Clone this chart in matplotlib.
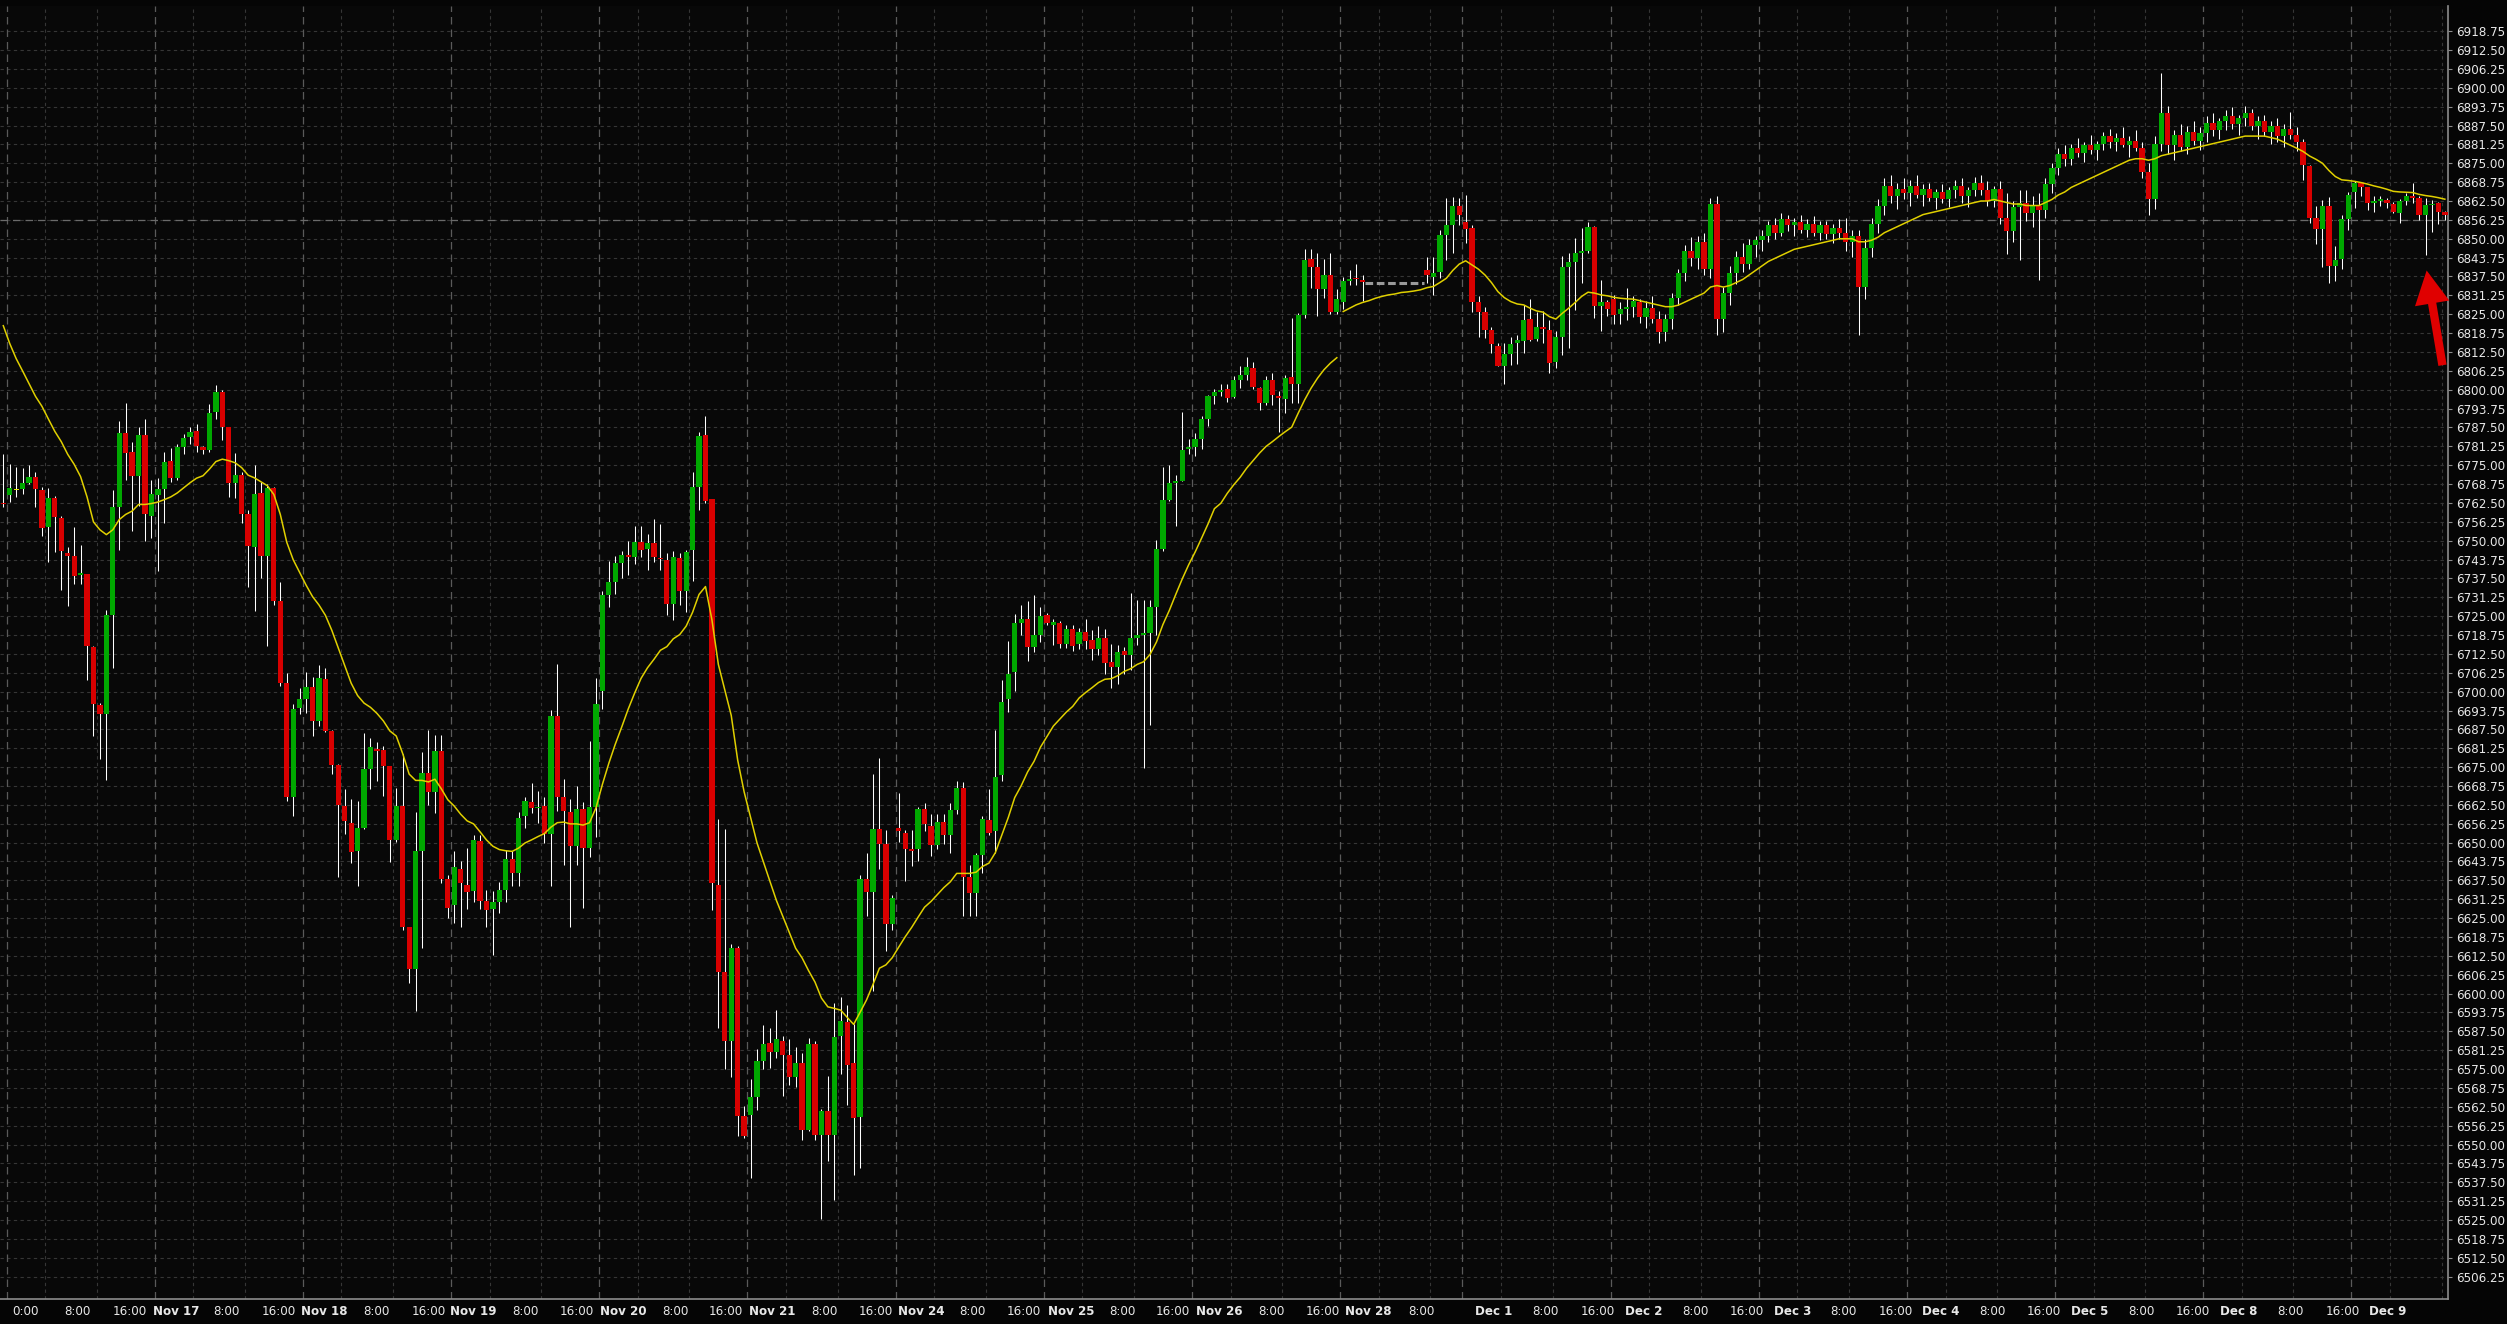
import numpy as np
import matplotlib
matplotlib.use("Agg")
import matplotlib.pyplot as plt
from matplotlib.patches import FancyArrowPatch

nan = np.nan

# OHLC, one hourly bar per entry (bars 212-220 are the empty holiday slots)
opens = [
    6762.5, 6765.0, 6766.7, 6767.0, 6769.0, 6771.2, 6766.8, 6754.5, 6764.2, 6757.5,
    6745.8, 6745.0, 6738.5, 6739.0, 6714.8, 6695.7, 6692.5, 6725.3, 6761.2, 6785.8,
    6779.3, 6771.3, 6785.0, 6758.3, 6765.0, 6767.0, 6776.5, 6770.8, 6781.0, 6784.3,
    6786.2, 6781.0, 6780.0, 6792.5, 6799.2, 6787.7, 6769.2, 6771.7, 6759.0, 6748.0,
    6765.7, 6744.8, 6767.3, 6730.0, 6702.8, 6665.0, 6694.5, 6697.5, 6701.5, 6690.3,
    6704.2, 6687.0, 6675.7, 6662.0, 6656.5, 6647.3, 6655.0, 6674.5, 6681.0, 6680.7,
    6675.3, 6650.8, 6662.0, 6622.0, 6608.0, 6647.3, 6673.0, 6666.8, 6680.3, 6638.0,
    6629.2, 6641.4, 6635.9, 6634.0, 6650.5, 6630.8, 6627.9, 6630.4, 6634.4, 6644.6,
    6639.9, 6658.8, 6663.4, 6661.3, 6662.1, 6653.0, 6691.9, 6665.0, 6660.2, 6648.8,
    6661.0, 6648.2, 6661.9, 6700.1, 6732.0, 6736.3, 6742.6, 6745.3, 6744.7, 6749.6,
    6747.2, 6749.2, 6744.3, 6743.6, 6729.1, 6744.1, 6733.3, 6746.8, 6767.7, 6785.0,
    6763.9, 6636.1, 6607.0, 6584.4, 6615.2, 6559.4, 6559.8, 6565.8, 6577.6, 6583.5,
    6580.6, 6584.4, 6579.7, 6572.3, 6577.0, 6554.8, 6583.3, 6553.3, 6561.2, 6553.3,
    6586.0, 6590.5, 6577.0, 6559.1, 6637.9, 6633.5, 6654.4, 6649.5, 6623.0, 6654.8,
    6653.2, 6647.9, 6647.9, 6661.1, 6655.6, 6649.1, 6656.9, 6652.5, 6660.7, 6668.1,
    6638.6, 6633.2, 6646.0, 6657.4, 6653.7, 6672.3, 6697.4, 6706.5, 6722.7, 6724.1,
    6714.8, 6718.7, 6725.5, 6722.2, 6722.7, 6715.7, 6720.6, 6715.7, 6719.7, 6717.1,
    6714.1, 6717.8, 6709.9, 6708.3, 6713.4, 6712.0, 6717.8, 6718.7, 6719.4, 6728.1,
    6747.3, 6763.6, 6769.2, 6769.9, 6780.3, 6781.0, 6783.8, 6790.3, 6797.8, 6799.4,
    6800.1, 6797.7, 6803.3, 6804.9, 6807.1, 6800.7, 6795.7, 6803.3, 6797.9, 6796.8,
    6804.1, 6801.9, 6824.8, 6843.2, 6840.6, 6833.3, 6838.0, 6825.9, 6829.2, 6836.1,
    6837.1, 6836.4, nan, nan, nan, nan, nan, nan, nan, nan,
    nan, 6839.7, 6837.2, 6839.1, 6851.3, 6854.6, 6860.7, 6855.4, 6853.5, 6829.2,
    6825.9, 6819.8, 6814.5, 6807.9, 6811.9, 6815.6, 6816.0, 6823.3, 6816.7, 6820.9,
    6819.8, 6809.3, 6817.6, 6840.6, 6842.2, 6845.4, 6846.0, 6853.8, 6827.8, 6829.2,
    6830.0, 6825.1, 6826.6, 6827.5, 6829.2, 6824.2, 6827.0, 6823.5, 6819.0, 6823.5,
    6830.5, 6838.5, 6846.0, 6843.5, 6849.0, 6840.0, 6861.5, 6823.5, 6832.0, 6838.5,
    6844.0, 6841.5, 6848.0, 6849.5, 6851.0, 6854.5, 6852.0, 6856.5, 6854.5, 6855.5,
    6853.0, 6855.0, 6852.0, 6854.5, 6851.5, 6853.5, 6852.0, 6849.0, 6851.0, 6834.0,
    6847.0, 6855.0, 6861.0, 6867.5, 6864.0, 6866.5, 6865.0, 6867.5, 6864.5, 6866.5,
    6863.5, 6865.5, 6863.0, 6866.0, 6867.5, 6864.0, 6866.0, 6868.5, 6866.0, 6862.5,
    6866.5, 6857.0, 6852.5, 6860.5, 6862.0, 6858.5, 6861.0, 6859.5, 6868.0, 6873.5,
    6878.0, 6876.5, 6880.0, 6878.5, 6881.0, 6879.5, 6881.5, 6884.0, 6882.0, 6883.5,
    6881.0, 6882.5, 6880.0, 6872.0, 6863.0, 6881.5, 6891.5, 6881.0, 6884.5, 6880.5,
    6885.5, 6882.5, 6885.0, 6888.5, 6886.0, 6889.0, 6890.5, 6888.0, 6890.0, 6891.5,
    6887.5, 6889.0, 6885.5, 6887.5, 6884.0, 6886.5, 6884.5, 6882.0, 6874.1, 6856.8,
    6853.3, 6860.9, 6841.1, 6843.3, 6856.6, 6865.6, 6868.4, 6867.0, 6862.0, 6862.4,
    6862.9, 6861.5, 6858.5, 6862.5, 6864.2, 6863.6, 6857.7, 6861.1, 6862.0, 6859.0,
]
highs = [
    6778.7, 6775.3, 6774.5, 6774.0, 6775.2, 6772.8, 6767.8, 6767.5, 6764.8, 6758.2,
    6747.8, 6754.5, 6748.7, 6739.0, 6715.2, 6696.2, 6727.0, 6766.7, 6789.5, 6795.7,
    6782.8, 6787.8, 6790.3, 6770.0, 6770.8, 6779.5, 6780.8, 6782.0, 6785.3, 6787.8,
    6788.7, 6781.5, 6795.3, 6801.5, 6799.8, 6787.8, 6779.0, 6772.8, 6760.0, 6775.2,
    6769.5, 6768.7, 6767.8, 6736.2, 6706.2, 6695.8, 6701.2, 6706.5, 6705.0, 6708.7,
    6707.8, 6687.3, 6676.2, 6667.8, 6664.3, 6663.7, 6686.2, 6684.8, 6683.2, 6682.0,
    6675.3, 6668.2, 6679.5, 6622.0, 6660.0, 6680.0, 6687.4, 6685.8, 6685.8, 6639.3,
    6647.3, 6643.9, 6648.2, 6652.4, 6652.6, 6634.4, 6634.0, 6636.8, 6647.7, 6647.3,
    6660.0, 6665.0, 6669.7, 6667.2, 6665.0, 6693.8, 6709.0, 6671.0, 6664.6, 6668.9,
    6663.4, 6683.7, 6704.4, 6733.3, 6743.4, 6744.9, 6746.6, 6749.8, 6755.0, 6755.0,
    6752.3, 6757.2, 6755.5, 6746.0, 6746.6, 6745.8, 6747.0, 6772.8, 6786.1, 6791.4,
    6763.9, 6657.9, 6654.5, 6616.5, 6615.6, 6562.8, 6571.7, 6581.8, 6589.6, 6588.6,
    6594.5, 6586.1, 6584.8, 6582.3, 6580.2, 6585.2, 6584.4, 6561.9, 6572.8, 6596.8,
    6599.0, 6596.1, 6589.8, 6639.3, 6646.7, 6672.8, 6678.1, 6654.2, 6632.8, 6666.5,
    6654.2, 6654.2, 6661.8, 6663.0, 6659.5, 6659.5, 6659.5, 6663.0, 6670.4, 6670.0,
    6642.5, 6646.7, 6658.8, 6667.6, 6687.4, 6703.7, 6716.9, 6725.7, 6728.8, 6729.9,
    6732.0, 6728.0, 6726.2, 6724.1, 6723.4, 6722.2, 6722.2, 6721.1, 6724.1, 6720.4,
    6721.8, 6720.6, 6715.7, 6715.3, 6714.8, 6732.7, 6730.4, 6730.4, 6730.4, 6750.1,
    6774.5, 6775.0, 6771.7, 6792.6, 6783.8, 6785.6, 6791.3, 6798.2, 6800.1, 6801.9,
    6801.9, 6804.4, 6807.7, 6810.8, 6809.3, 6801.0, 6804.4, 6805.5, 6799.6, 6804.9,
    6823.7, 6825.3, 6846.5, 6846.5, 6845.2, 6843.2, 6845.2, 6833.3, 6837.2, 6839.5,
    6841.7, 6838.0, nan, nan, nan, nan, nan, nan, nan, nan,
    nan, 6844.1, 6844.1, 6852.9, 6863.4, 6863.8, 6863.4, 6864.5, 6854.6, 6830.9,
    6827.5, 6820.9, 6815.4, 6815.4, 6817.6, 6818.1, 6828.1, 6830.0, 6825.9, 6826.2,
    6823.1, 6819.3, 6844.3, 6845.2, 6850.2, 6853.5, 6855.5, 6854.3, 6836.4, 6829.8,
    6831.4, 6829.2, 6833.6, 6830.9, 6830.0, 6829.5, 6831.0, 6826.0, 6825.0, 6832.0,
    6840.0, 6848.0, 6850.5, 6851.0, 6852.0, 6863.5, 6864.0, 6834.0, 6841.0, 6846.0,
    6848.5, 6850.0, 6851.0, 6853.0, 6856.0, 6857.0, 6858.5, 6858.0, 6857.0, 6858.0,
    6856.5, 6857.5, 6856.0, 6856.0, 6855.0, 6856.5, 6857.0, 6853.0, 6853.0, 6850.0,
    6857.0, 6863.0, 6870.0, 6871.0, 6868.5, 6870.0, 6869.5, 6871.0, 6868.0, 6868.5,
    6866.5, 6868.0, 6867.0, 6869.5, 6870.0, 6867.0, 6870.5, 6871.0, 6869.0, 6867.5,
    6869.0, 6865.0, 6862.5, 6866.0, 6866.0, 6864.0, 6865.0, 6870.0, 6875.0, 6880.0,
    6881.0, 6881.5, 6883.5, 6882.0, 6884.5, 6882.5, 6885.5, 6886.5, 6885.0, 6887.0,
    6884.0, 6886.0, 6882.0, 6875.0, 6884.0, 6905.0, 6894.0, 6886.0, 6888.0, 6887.5,
    6889.0, 6887.0, 6890.5, 6891.5, 6890.0, 6892.5, 6893.5, 6891.0, 6894.0, 6893.0,
    6890.5, 6891.0, 6889.0, 6890.0, 6888.0, 6892.0, 6887.0, 6883.0, 6874.5, 6860.9,
    6862.9, 6863.7, 6847.6, 6857.9, 6865.6, 6869.0, 6868.7, 6867.3, 6864.2, 6864.3,
    6863.4, 6862.3, 6863.1, 6865.1, 6868.6, 6864.0, 6863.4, 6862.9, 6862.3, 6859.2,
]
lows = [
    6761.2, 6762.8, 6764.5, 6765.3, 6768.7, 6761.2, 6751.5, 6742.8, 6746.2, 6733.5,
    6728.5, 6735.5, 6735.7, 6704.0, 6685.3, 6677.8, 6670.7, 6707.8, 6747.0, 6770.0,
    6753.3, 6761.5, 6750.0, 6750.8, 6740.0, 6755.7, 6769.5, 6770.0, 6778.7, 6782.0,
    6779.5, 6778.7, 6779.5, 6790.3, 6783.5, 6764.5, 6764.0, 6755.7, 6734.5, 6726.7,
    6737.7, 6715.0, 6728.7, 6702.0, 6663.7, 6658.8, 6692.7, 6692.8, 6685.3, 6688.7,
    6686.5, 6672.8, 6638.7, 6652.8, 6643.3, 6635.7, 6654.5, 6667.8, 6670.3, 6665.3,
    6643.7, 6650.3, 6621.2, 6603.4, 6594.3, 6615.0, 6662.5, 6659.8, 6636.5, 6624.9,
    6623.4, 6622.0, 6628.1, 6630.4, 6628.1, 6622.0, 6612.9, 6626.6, 6630.4, 6635.7,
    6635.5, 6655.0, 6659.8, 6656.6, 6649.9, 6635.7, 6660.4, 6642.5, 6622.0, 6642.5,
    6628.3, 6645.2, 6652.0, 6694.2, 6728.0, 6732.2, 6737.5, 6738.6, 6742.4, 6744.5,
    6740.3, 6742.8, 6740.3, 6725.5, 6723.8, 6728.7, 6726.3, 6736.5, 6760.1, 6762.4,
    6627.7, 6588.6, 6574.9, 6572.3, 6552.7, 6552.3, 6538.9, 6561.6, 6574.9, 6575.5,
    6578.5, 6566.0, 6569.6, 6569.0, 6551.6, 6554.4, 6551.6, 6525.2, 6544.5, 6531.7,
    6573.5, 6563.1, 6539.8, 6542.2, 6625.8, 6600.7, 6641.4, 6614.2, 6621.2, 6650.2,
    6637.4, 6642.1, 6643.9, 6653.7, 6645.6, 6647.9, 6649.5, 6646.7, 6659.5, 6625.8,
    6625.8, 6625.8, 6639.8, 6652.5, 6646.7, 6670.4, 6693.2, 6700.2, 6718.8, 6710.2,
    6713.0, 6716.4, 6722.2, 6715.3, 6714.6, 6714.6, 6713.6, 6714.1, 6714.1, 6710.6,
    6712.3, 6706.0, 6701.3, 6702.5, 6706.0, 6707.2, 6715.3, 6674.6, 6689.0, 6718.7,
    6746.6, 6763.0, 6754.8, 6769.9, 6778.7, 6778.0, 6780.3, 6788.0, 6795.4, 6797.8,
    6795.9, 6797.2, 6800.5, 6803.3, 6800.1, 6793.3, 6795.0, 6795.0, 6786.1, 6792.4,
    6795.7, 6795.7, 6823.7, 6833.6, 6824.5, 6830.3, 6825.1, 6825.1, 6826.7, 6834.7,
    6834.7, 6829.5, nan, nan, nan, nan, nan, nan, nan, nan,
    nan, 6835.3, 6831.4, 6836.9, 6843.0, 6845.2, 6854.6, 6848.5, 6825.9, 6817.4,
    6817.1, 6812.3, 6807.7, 6801.9, 6808.2, 6808.5, 6812.3, 6816.0, 6816.0, 6815.6,
    6805.5, 6807.1, 6811.5, 6813.8, 6826.4, 6835.3, 6845.2, 6823.7, 6819.5, 6824.4,
    6821.8, 6821.8, 6823.1, 6824.2, 6822.0, 6820.5, 6822.0, 6815.5, 6816.0, 6820.0,
    6828.0, 6836.0, 6841.0, 6840.0, 6838.0, 6837.0, 6818.0, 6819.0, 6828.0, 6835.0,
    6839.0, 6840.0, 6844.0, 6846.0, 6849.0, 6850.0, 6851.0, 6852.5, 6851.0, 6852.0,
    6850.5, 6851.0, 6849.5, 6850.0, 6848.5, 6850.0, 6846.0, 6844.0, 6818.0, 6830.0,
    6844.0, 6852.0, 6858.0, 6862.0, 6860.0, 6863.0, 6861.0, 6863.5, 6861.0, 6862.5,
    6860.0, 6862.0, 6860.5, 6863.5, 6862.0, 6860.5, 6864.0, 6864.5, 6861.0, 6860.5,
    6855.0, 6845.0, 6849.0, 6843.0, 6856.0, 6854.0, 6836.5, 6857.0, 6865.0, 6871.0,
    6874.0, 6874.5, 6877.0, 6875.5, 6878.0, 6876.0, 6879.5, 6880.0, 6879.0, 6880.5,
    6877.0, 6879.0, 6870.0, 6858.0, 6860.0, 6879.0, 6878.0, 6876.0, 6879.0, 6878.0,
    6881.0, 6879.5, 6882.0, 6884.0, 6883.0, 6886.0, 6886.5, 6884.5, 6887.5, 6886.0,
    6883.0, 6884.0, 6881.5, 6882.0, 6880.5, 6883.0, 6879.0, 6869.3, 6855.1, 6848.3,
    6840.8, 6835.3, 6836.1, 6839.9, 6852.9, 6860.1, 6864.2, 6859.6, 6859.0, 6860.7,
    6860.1, 6858.4, 6855.1, 6861.2, 6861.8, 6856.2, 6844.6, 6852.4, 6854.9, 6856.2,
]
closes = [
    6762.0, 6767.3, 6766.7, 6769.0, 6771.2, 6767.0, 6754.2, 6764.2, 6757.8, 6746.5,
    6744.8, 6738.3, 6739.2, 6715.0, 6695.8, 6692.5, 6725.3, 6761.2, 6785.8, 6779.0,
    6771.3, 6785.0, 6758.7, 6765.3, 6767.0, 6776.2, 6770.8, 6781.0, 6784.0, 6786.0,
    6781.2, 6780.0, 6792.3, 6799.2, 6787.8, 6769.0, 6771.7, 6759.0, 6748.2, 6765.3,
    6744.8, 6767.3, 6730.0, 6702.8, 6665.0, 6694.2, 6697.5, 6701.5, 6690.3, 6704.5,
    6687.0, 6675.7, 6662.3, 6657.0, 6647.0, 6655.0, 6674.5, 6681.7, 6680.3, 6675.3,
    6650.8, 6662.0, 6622.0, 6608.0, 6647.3, 6673.1, 6666.8, 6680.3, 6637.8, 6628.3,
    6641.8, 6636.5, 6633.8, 6650.9, 6630.8, 6627.7, 6630.4, 6634.2, 6644.6, 6639.9,
    6658.3, 6663.8, 6661.3, 6661.7, 6653.0, 6691.9, 6665.0, 6660.4, 6648.8, 6661.0,
    6648.2, 6661.9, 6695.9, 6732.0, 6736.3, 6742.6, 6745.3, 6744.7, 6749.6, 6747.0,
    6749.2, 6744.5, 6743.8, 6729.1, 6744.5, 6733.3, 6746.2, 6767.7, 6784.6, 6763.3,
    6636.5, 6607.0, 6584.4, 6615.2, 6559.4, 6552.7, 6565.8, 6577.6, 6583.3, 6580.6,
    6585.0, 6579.7, 6572.3, 6577.0, 6554.8, 6583.3, 6553.1, 6561.2, 6553.3, 6585.6,
    6590.9, 6576.5, 6558.9, 6637.9, 6633.5, 6654.4, 6649.5, 6623.0, 6631.6, 6653.7,
    6647.9, 6647.2, 6661.1, 6656.0, 6649.1, 6656.9, 6652.5, 6660.7, 6668.1, 6638.6,
    6633.2, 6646.0, 6657.9, 6653.2, 6671.8, 6696.7, 6706.0, 6722.7, 6724.1, 6714.8,
    6718.7, 6725.0, 6722.7, 6723.2, 6715.7, 6720.6, 6715.0, 6719.7, 6716.9, 6714.1,
    6717.8, 6709.5, 6708.3, 6713.0, 6712.0, 6717.8, 6718.7, 6719.4, 6728.1, 6747.3,
    6763.6, 6769.2, 6769.9, 6779.9, 6781.0, 6783.8, 6790.3, 6797.8, 6799.4, 6799.9,
    6797.3, 6803.3, 6804.9, 6807.4, 6801.0, 6795.5, 6803.3, 6798.3, 6797.2, 6803.8,
    6801.9, 6824.8, 6843.0, 6840.8, 6833.3, 6838.0, 6825.9, 6830.0, 6836.1, 6836.6,
    6836.6, 6835.8, nan, nan, nan, nan, nan, nan, nan, nan,
    nan, 6838.0, 6838.6, 6851.3, 6854.6, 6860.7, 6857.7, 6853.3, 6829.2, 6825.9,
    6819.8, 6815.2, 6807.9, 6811.9, 6815.2, 6816.3, 6823.1, 6816.3, 6820.9, 6820.0,
    6809.0, 6817.6, 6840.6, 6842.2, 6845.2, 6846.0, 6853.8, 6827.8, 6829.2, 6826.6,
    6824.8, 6826.6, 6827.5, 6829.5, 6824.2, 6827.0, 6823.5, 6819.0, 6823.5, 6830.5,
    6838.5, 6846.0, 6843.5, 6849.0, 6840.0, 6861.5, 6823.5, 6832.0, 6838.5, 6844.0,
    6841.5, 6848.0, 6849.5, 6851.0, 6854.5, 6852.0, 6856.5, 6854.5, 6855.5, 6853.0,
    6855.0, 6852.0, 6854.5, 6851.5, 6853.5, 6852.0, 6849.0, 6851.0, 6834.0, 6847.0,
    6855.0, 6861.0, 6867.5, 6864.0, 6866.5, 6865.0, 6867.5, 6864.5, 6866.5, 6863.5,
    6865.5, 6863.0, 6866.0, 6867.5, 6864.0, 6866.0, 6868.5, 6866.0, 6862.5, 6866.5,
    6857.0, 6852.5, 6860.5, 6862.0, 6858.5, 6861.0, 6859.5, 6868.0, 6873.5, 6878.0,
    6876.5, 6880.0, 6878.5, 6881.0, 6879.5, 6881.5, 6884.0, 6882.0, 6883.5, 6881.0,
    6882.5, 6880.0, 6872.0, 6863.0, 6881.5, 6891.5, 6881.0, 6884.5, 6880.5, 6885.5,
    6882.5, 6885.0, 6888.5, 6886.0, 6889.0, 6890.5, 6888.0, 6890.0, 6891.5, 6887.5,
    6889.0, 6885.5, 6887.5, 6884.0, 6886.5, 6884.5, 6882.0, 6874.5, 6856.8, 6853.3,
    6860.9, 6841.1, 6843.0, 6856.6, 6864.5, 6868.4, 6867.0, 6861.8, 6862.5, 6863.0,
    6861.8, 6858.8, 6862.5, 6864.3, 6863.6, 6857.7, 6861.2, 6861.6, 6859.0, 6857.7,
]

# yellow moving average as drawn on the chart; it restarts at bar 208
ma_values = [
    6821.2, 6815.3, 6810.3, 6806.2, 6802.0, 6797.8, 6794.5, 6790.3, 6786.2, 6782.8,
    6778.6, 6775.3, 6771.2, 6764.5, 6756.2, 6753.6, 6752.0, 6753.6, 6757.0, 6758.7,
    6759.8, 6762.0, 6762.0, 6762.3, 6762.8, 6763.6, 6764.5, 6765.8, 6767.5, 6769.2,
    6770.7, 6771.5, 6773.7, 6776.2, 6777.0, 6776.5, 6775.8, 6774.2, 6771.7, 6770.8,
    6769.5, 6768.2, 6765.3, 6758.7, 6749.5, 6743.7, 6739.5, 6735.3, 6731.5, 6728.7,
    6725.3, 6720.3, 6714.5, 6708.7, 6702.8, 6698.7, 6696.2, 6694.8, 6692.8, 6690.3,
    6687.0, 6685.3, 6679.5, 6672.7, 6670.6, 6670.6, 6670.1, 6671.0, 6667.8, 6664.2,
    6662.1, 6659.4, 6657.2, 6656.2, 6653.6, 6650.9, 6648.8, 6647.7, 6647.3, 6647.1,
    6648.2, 6649.9, 6650.9, 6652.0, 6653.0, 6655.1, 6656.6, 6656.8, 6656.2, 6656.2,
    6655.8, 6656.6, 6661.5, 6669.3, 6676.3, 6682.6, 6688.3, 6694.2, 6699.5, 6704.4,
    6707.9, 6710.7, 6713.7, 6714.9, 6717.5, 6718.9, 6721.7, 6726.3, 6732.2, 6734.8,
    6723.8, 6709.0, 6700.5, 6692.1, 6677.3, 6666.8, 6658.3, 6649.9, 6643.5, 6637.2,
    6630.9, 6625.6, 6620.3, 6615.0, 6611.8, 6607.6, 6603.8, 6598.5, 6595.6, 6595.1,
    6594.5, 6592.1, 6589.8, 6593.8, 6597.9, 6603.0, 6608.4, 6609.5, 6611.9, 6615.4,
    6618.8, 6621.9, 6625.3, 6628.6, 6630.5, 6632.8, 6635.1, 6637.0, 6639.8, 6639.8,
    6639.8, 6640.2, 6642.1, 6643.2, 6646.7, 6652.5, 6658.3, 6664.9, 6668.8, 6673.4,
    6676.9, 6681.6, 6685.1, 6688.6, 6690.9, 6693.2, 6695.1, 6697.9, 6699.7, 6701.3,
    6703.0, 6704.1, 6704.3, 6705.3, 6706.7, 6707.6, 6709.0, 6709.9, 6712.3, 6716.4,
    6722.2, 6726.9, 6732.2, 6737.3, 6742.0, 6746.2, 6750.8, 6755.5, 6760.6, 6762.4,
    6765.7, 6768.5, 6771.0, 6774.0, 6776.5, 6779.0, 6781.2, 6782.8, 6784.5, 6786.1,
    6787.6, 6792.2, 6796.6, 6800.5, 6803.8, 6806.6, 6808.8, 6810.6, 6825.9, 6827.0,
    6828.1, 6828.9, 6829.5, 6830.3, 6830.9, 6831.4, 6831.7, 6832.2, 6832.4, 6832.7,
    6833.1, 6833.8, 6834.2, 6835.5, 6836.9, 6839.5, 6841.6, 6842.7, 6841.3, 6839.9,
    6838.0, 6835.5, 6832.5, 6830.5, 6829.2, 6828.4, 6828.1, 6827.0, 6826.1, 6825.7,
    6824.2, 6823.4, 6825.3, 6827.0, 6828.9, 6830.9, 6832.3, 6832.0, 6831.4, 6831.1,
    6830.6, 6830.3, 6830.1, 6830.0, 6829.5, 6829.0, 6828.5, 6828.0, 6827.5, 6827.5,
    6828.0, 6829.0, 6830.0, 6831.0, 6832.0, 6834.0, 6834.5, 6834.0, 6834.5, 6835.5,
    6836.5, 6838.0, 6839.5, 6841.0, 6842.5, 6843.5, 6844.5, 6845.5, 6846.5, 6847.0,
    6847.5, 6848.0, 6848.5, 6849.0, 6849.5, 6850.0, 6850.0, 6850.0, 6849.0, 6849.0,
    6849.5, 6850.5, 6852.0, 6853.0, 6854.0, 6855.0, 6856.0, 6857.0, 6858.0, 6858.5,
    6859.0, 6859.5, 6860.0, 6860.5, 6861.0, 6861.5, 6862.0, 6862.5, 6862.5, 6863.0,
    6862.5, 6862.0, 6861.5, 6861.5, 6861.0, 6861.0, 6861.0, 6862.0, 6863.0, 6864.5,
    6865.5, 6867.0, 6868.0, 6869.0, 6870.0, 6871.0, 6872.0, 6873.0, 6874.0, 6875.0,
    6876.0, 6876.5, 6876.5, 6876.0, 6876.5, 6877.5, 6878.0, 6878.5, 6879.0, 6879.5,
    6880.0, 6880.5, 6881.0, 6881.5, 6882.0, 6882.5, 6883.0, 6883.5, 6884.0, 6884.0,
    6884.0, 6884.0, 6883.5, 6883.0, 6882.0, 6881.0, 6880.0, 6878.9, 6877.4, 6876.3,
    6875.0, 6872.6, 6870.6, 6869.5, 6869.3, 6869.0, 6868.6, 6868.1, 6867.5, 6867.0,
    6866.4, 6865.7, 6865.5, 6865.4, 6865.3, 6864.7, 6864.3, 6864.0, 6863.6, 6863.1,
]
ma_restart = 208

# first bar of each trading day
day_starts = [1, 24, 47, 70, 93, 116, 139, 162, 185, 208, 227, 250, 273, 296, 319, 342, 365]

x_label_pos = [3.5, 11.5, 19.6, 26.8, 34.7, 42.8, 49.9, 57.9, 66.0, 73.0, 81.0, 89.1,
               96.2, 104.3, 112.2, 119.3, 127.4, 135.4, 142.5, 150.5, 158.4, 165.7,
               173.7, 181.6, 188.7, 196.8, 204.9, 211.9, 220.1, 231.4, 239.4, 247.5,
               254.6, 262.6, 270.6, 277.8, 285.7, 293.7, 300.7, 308.8, 316.8, 323.8,
               331.9, 339.9, 347.0, 355.0, 363.2, 370.2]
x_label_text = ["0:00", "8:00", "16:00", "Nov 17", "8:00", "16:00", "Nov 18", "8:00", "16:00",
                "Nov 19", "8:00", "16:00", "Nov 20", "8:00", "16:00", "Nov 21", "8:00", "16:00",
                "Nov 24", "8:00", "16:00", "Nov 25", "8:00", "16:00", "Nov 26", "8:00", "16:00",
                "Nov 28", "8:00", "Dec 1", "8:00", "16:00", "Dec 2", "8:00", "16:00",
                "Dec 3", "8:00", "16:00", "Dec 4", "8:00", "16:00", "Dec 5", "8:00", "16:00",
                "Dec 8", "8:00", "16:00", "Dec 9"]

last_price = 6856.25
gap_price = 6835.5

y_ticks = np.arange(6506.25, 6918.76, 6.25)

o = np.array(opens)
h = np.array(highs)
l = np.array(lows)
c = np.array(closes)
n_bars = len(o)
x = np.arange(n_bars)

fig = plt.figure(figsize=(25.07, 13.24), dpi=100, facecolor="#050505")
ax = fig.add_axes([0.0, 0.0189, 0.9765, 0.9766])
ax.set_facecolor("#080808")
ax.set_xlim(-0.51, 379.5)
ax.set_ylim(6498.85, 6927.1)

# grid
for yt in y_ticks:
    ax.axhline(yt, color="#363636", lw=0.8, ls=(0, (3, 3)), zorder=0)
for d in day_starts:
    ax.axvline(d - 0.5, color="#5a5a5a", lw=0.9, ls=(0, (6, 4)), zorder=0)
    for k in (6, 14):
        if d + k - 0.5 < 379.5:
            ax.axvline(d + k - 0.5, color="#363636", lw=0.8, ls=(0, (3, 3)), zorder=0)

ax.axhline(last_price, color="#6a6a6a", lw=0.9, ls=(0, (6, 4)), zorder=1)

# candles
ok = ~np.isnan(o)
colors = np.where(c > o, "#00a800", np.where(c < o, "#d80000", "#e8e800"))
ax.vlines(x[ok], l[ok], h[ok], color="#ffffff", lw=0.75, zorder=2)
body_lo = np.minimum(o, c)
body_h = np.maximum(np.abs(c - o), 0.5)
ax.bar(x[ok], body_h[ok], bottom=body_lo[ok], width=0.82, color=colors[ok],
       linewidth=0, zorder=3)

# holiday gap marker at the last traded price
gap = np.where(~ok)[0]
ax.hlines(gap_price, gap[0] - 0.7, gap[-1] + 0.5, color="#9a9a9a", lw=2.2,
          ls=(0, (2.5, 1.2)), zorder=2)

# moving average
ma = np.array(ma_values)
ax.plot(x[:ma_restart], ma[:ma_restart], color="#e0d000", lw=1.1, zorder=4)
ax.plot(x[ma_restart:], ma[ma_restart:], color="#e0d000", lw=1.1, zorder=4)

# axes styling
for side in ("top", "left"):
    ax.spines[side].set_visible(False)
for side in ("right", "bottom"):
    ax.spines[side].set_color("#8c8c8c")
    ax.spines[side].set_linewidth(1.2)

ax.yaxis.tick_right()
ax.set_yticks(y_ticks)
ax.set_yticklabels([f"{v:.2f}" for v in y_ticks])
ax.tick_params(axis="y", colors="#8c8c8c", labelcolor="#e8e8e8", labelsize=8.6,
               length=3, pad=3)
ax.set_xticks(x_label_pos)
ax.set_xticklabels(x_label_text)
ax.tick_params(axis="x", length=0, labelcolor="#e8e8e8", labelsize=8.6, pad=4)
for lab in ax.get_xticklabels():
    if lab.get_text()[:3] in ("Nov", "Dec"):
        lab.set_fontweight("bold")

# red arrow pointing at the last bars
arrow = FancyArrowPatch((378.7, 6807.2), (376.1, 6840.4),
                        arrowstyle="simple,head_length=24,head_width=25,tail_width=6",
                        mutation_scale=1, color="#e00000", lw=0, zorder=6, clip_on=False)
ax.add_patch(arrow)

fig.savefig("out.png", dpi=100, facecolor=fig.get_facecolor())
